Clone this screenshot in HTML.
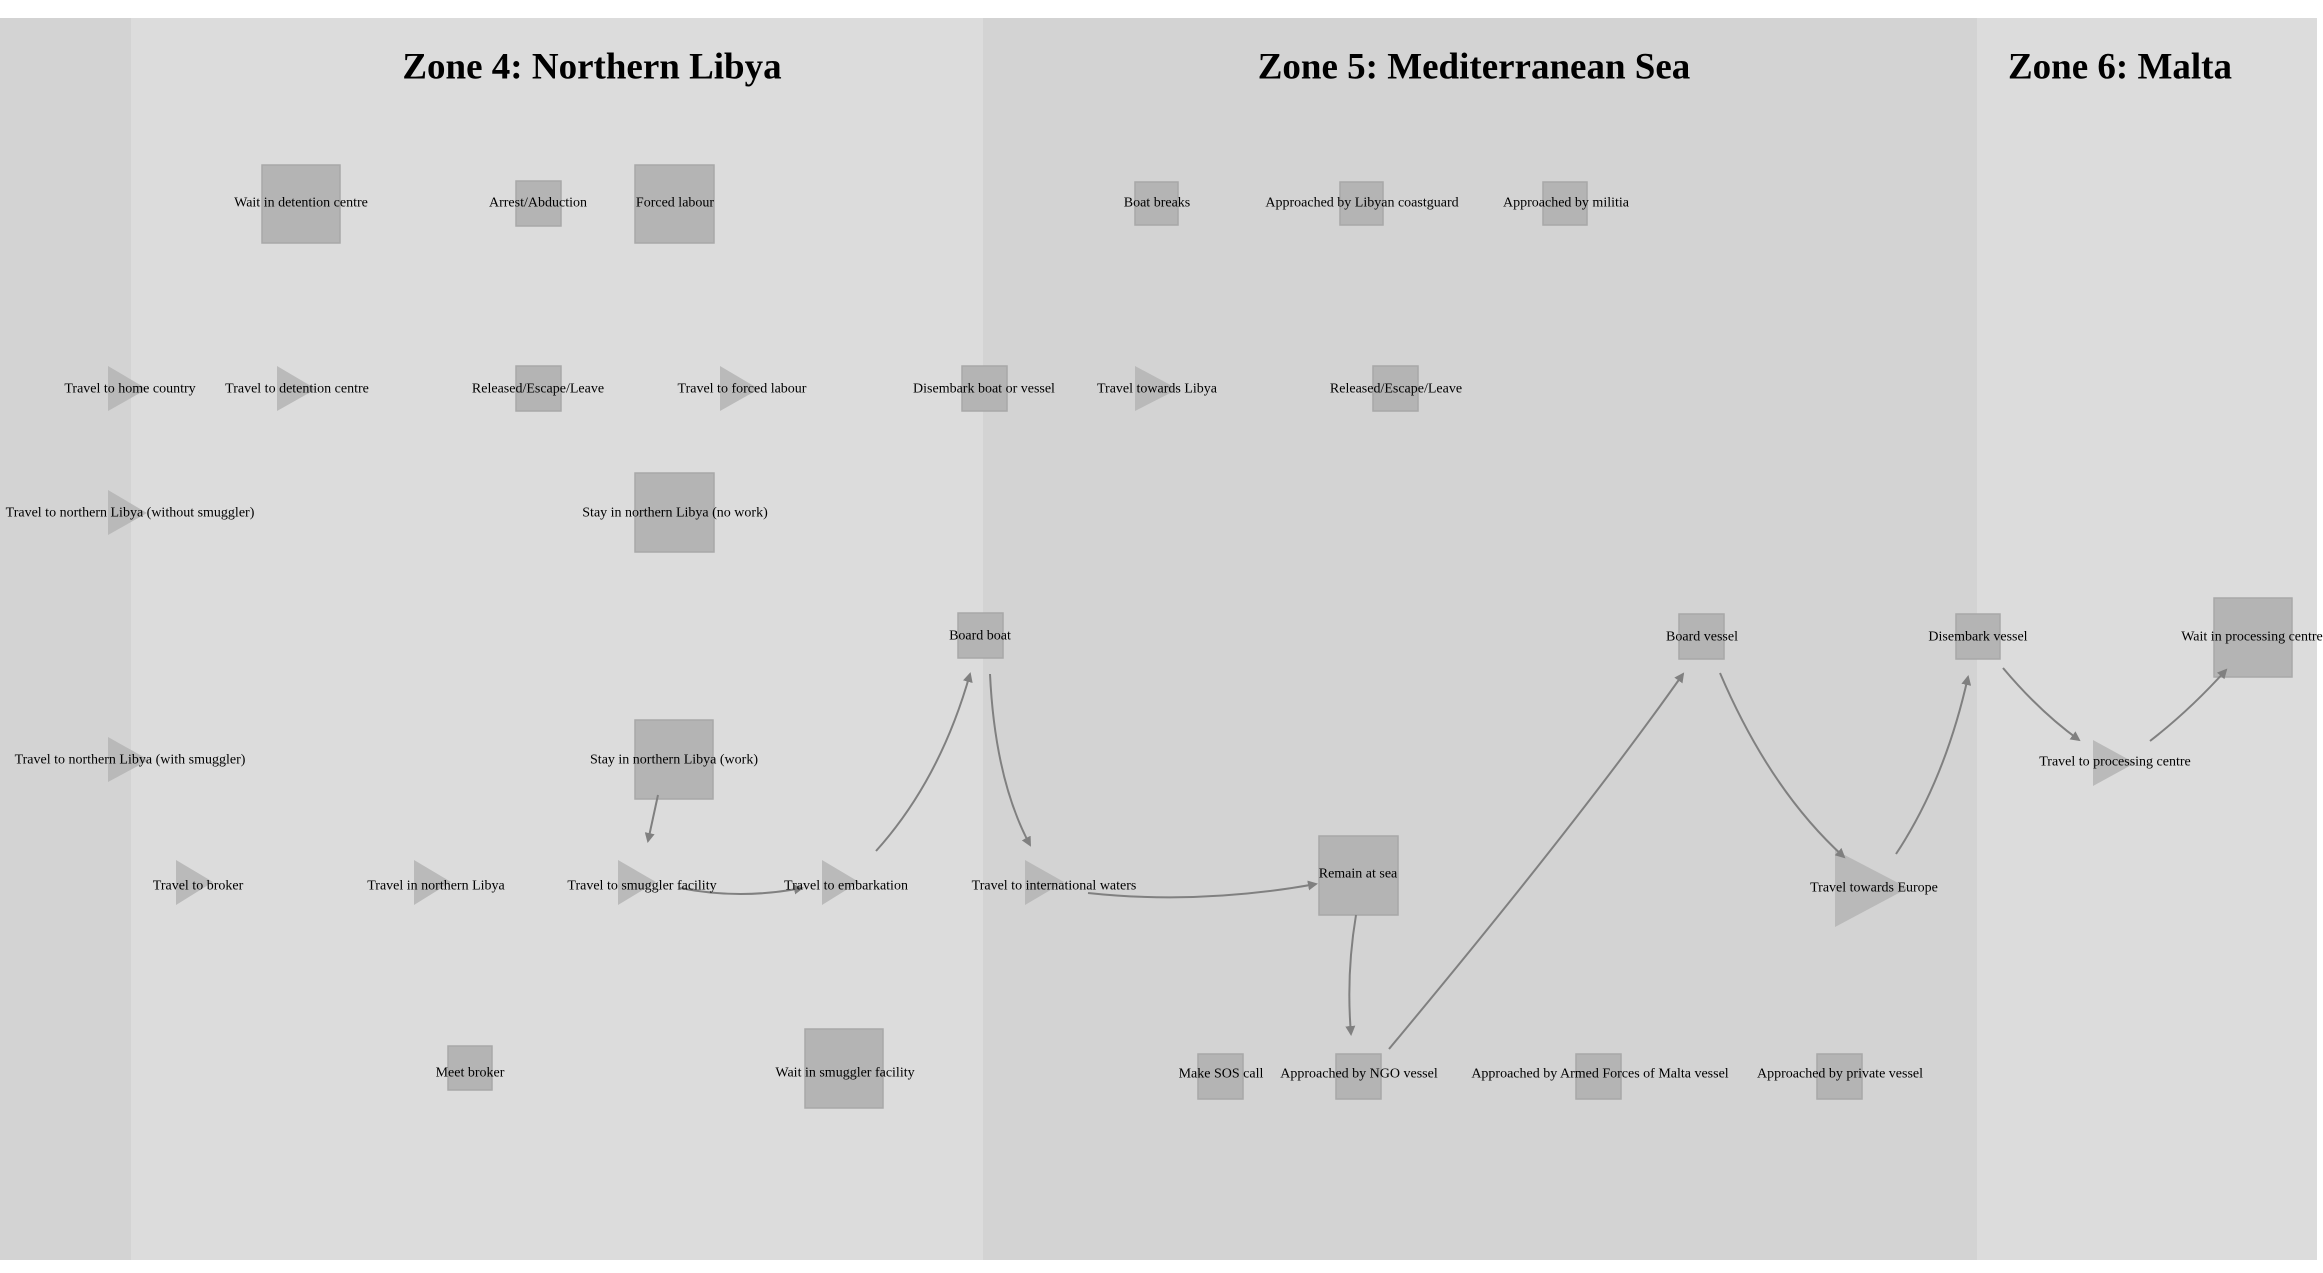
<!DOCTYPE html>
<html><head><meta charset="utf-8"><style>
html,body{margin:0;padding:0;background:#fff;}
svg{display:block;}
text{font-family:"Liberation Serif",serif;}
.n{font-size:14px;text-anchor:middle;dominant-baseline:central;fill:#000;}
.t{font-size:37px;font-weight:bold;text-anchor:middle;dominant-baseline:central;fill:#000;}
.r{fill:#b4b4b4;stroke:#a8a8a8;stroke-width:1.5;}
.g{fill:#b4b4b4;opacity:0.85;}
.e{fill:none;stroke:#808080;stroke-width:2;marker-end:url(#a);}
</style></head><body>
<svg width="2323" height="1273" viewBox="0 0 2323 1273" xmlns="http://www.w3.org/2000/svg">
<defs><marker id="a" markerWidth="10" markerHeight="10" refX="8" refY="5" orient="auto" markerUnits="userSpaceOnUse"><path d="M0,0 L10,5 L0,10 z" fill="#808080"/></marker></defs>
<rect x="0" y="18" width="131" height="1242" fill="#d3d3d3"/>
<rect x="131" y="18" width="852" height="1242" fill="#dcdcdc"/>
<rect x="983" y="18" width="994" height="1242" fill="#d3d3d3"/>
<rect x="1977" y="18" width="340" height="1242" fill="#dcdcdc"/>
<text class="t" x="592" y="67">Zone 4: Northern Libya</text>
<text class="t" x="1474" y="67">Zone 5: Mediterranean Sea</text>
<text class="t" x="2120" y="67">Zone 6: Malta</text>

<!-- rects -->
<rect class="r" x="262" y="165" width="78" height="78"/>
<rect class="r" x="516" y="181" width="45" height="45"/>
<rect class="r" x="635" y="165" width="79" height="78"/>
<rect class="r" x="516" y="366" width="45" height="45"/>
<rect class="r" x="962" y="366" width="45" height="45"/>
<rect class="r" x="635" y="473" width="79" height="79"/>
<rect class="r" x="958" y="613" width="45" height="45"/>
<rect class="r" x="635" y="720" width="78" height="79"/>
<rect class="r" x="448" y="1046" width="44" height="44"/>
<rect class="r" x="805" y="1029" width="78" height="79"/>
<rect class="r" x="1135" y="182" width="43" height="43"/>
<rect class="r" x="1340" y="182" width="43" height="43"/>
<rect class="r" x="1543" y="182" width="44" height="43"/>
<rect class="r" x="1373" y="366" width="45" height="45"/>
<rect class="r" x="1319" y="836" width="79" height="79"/>
<rect class="r" x="1679" y="614" width="45" height="45"/>
<rect class="r" x="1956" y="614" width="44" height="45"/>
<rect class="r" x="2214" y="598" width="78" height="79"/>
<rect class="r" x="1198" y="1054" width="45" height="45"/>
<rect class="r" x="1336" y="1054" width="45" height="45"/>
<rect class="r" x="1576" y="1054" width="45" height="45"/>
<rect class="r" x="1817" y="1054" width="45" height="45"/>

<!-- triangles -->
<polygon class="g" points="108,366 147,389 108,411"/>
<polygon class="g" points="277,366 316,389 277,411"/>
<polygon class="g" points="720,366 759,389 720,411"/>
<polygon class="g" points="1135,366 1178,389 1135,411"/>
<polygon class="g" points="108,490 147,513 108,535"/>
<polygon class="g" points="108,737 149,760 108,782"/>
<polygon class="g" points="176,860 213,882 176,905"/>
<polygon class="g" points="414,860 451,882 414,905"/>
<polygon class="g" points="618,860 656,882 618,905"/>
<polygon class="g" points="822,860 859,882 822,905"/>
<polygon class="g" points="1025,860 1064,882 1025,905"/>
<polygon class="g" points="1835,850 1908,888 1835,927"/>
<polygon class="g" points="2093,740 2135,763 2093,786"/>

<!-- edges -->
<path class="e" d="M658,795 L648,841"/>
<path class="e" d="M680,888 Q740,900 802,888"/>
<path class="e" d="M876,851 Q940,780 970,674"/>
<path class="e" d="M990,674 Q995,780 1030,845"/>
<path class="e" d="M1088,893 Q1200,905 1316,884"/>
<path class="e" d="M1356,915 Q1346,975 1351,1034"/>
<path class="e" d="M1389,1049 Q1580,820 1683,674"/>
<path class="e" d="M1720,673 Q1770,790 1844,857"/>
<path class="e" d="M1896,854 Q1945,780 1968,677"/>
<path class="e" d="M2003,668 Q2040,712 2079,740"/>
<path class="e" d="M2150,741 Q2190,710 2226,670"/>

<!-- labels -->
<text class="n" x="301" y="203">Wait in detention centre</text>
<text class="n" x="538" y="203">Arrest/Abduction</text>
<text class="n" x="675" y="203">Forced labour</text>
<text class="n" x="130" y="389">Travel to home country</text>
<text class="n" x="297" y="389">Travel to detention centre</text>
<text class="n" x="538" y="389">Released/Escape/Leave</text>
<text class="n" x="742" y="389">Travel to forced labour</text>
<text class="n" x="984" y="389">Disembark boat or vessel</text>
<text class="n" x="130" y="513">Travel to northern Libya (without smuggler)</text>
<text class="n" x="675" y="513">Stay in northern Libya (no work)</text>
<text class="n" x="980" y="636">Board boat</text>
<text class="n" x="130" y="760">Travel to northern Libya (with smuggler)</text>
<text class="n" x="674" y="760">Stay in northern Libya (work)</text>
<text class="n" x="198" y="886">Travel to broker</text>
<text class="n" x="436" y="886">Travel in northern Libya</text>
<text class="n" x="642" y="886">Travel to smuggler facility</text>
<text class="n" x="846" y="886">Travel to embarkation</text>
<text class="n" x="1054" y="886">Travel to international waters</text>
<text class="n" x="470" y="1073">Meet broker</text>
<text class="n" x="845" y="1073">Wait in smuggler facility</text>
<text class="n" x="1157" y="203">Boat breaks</text>
<text class="n" x="1362" y="203">Approached by Libyan coastguard</text>
<text class="n" x="1566" y="203">Approached by militia</text>
<text class="n" x="1157" y="389">Travel towards Libya</text>
<text class="n" x="1396" y="389">Released/Escape/Leave</text>
<text class="n" x="1358" y="874">Remain at sea</text>
<text class="n" x="1702" y="637">Board vessel</text>
<text class="n" x="1978" y="637">Disembark vessel</text>
<text class="n" x="2252" y="637">Wait in processing centre</text>
<text class="n" x="2115" y="762">Travel to processing centre</text>
<text class="n" x="1874" y="888">Travel towards Europe</text>
<text class="n" x="1221" y="1074">Make SOS call</text>
<text class="n" x="1359" y="1074">Approached by NGO vessel</text>
<text class="n" x="1600" y="1074">Approached by Armed Forces of Malta vessel</text>
<text class="n" x="1840" y="1074">Approached by private vessel</text>
</svg>
</body></html>
